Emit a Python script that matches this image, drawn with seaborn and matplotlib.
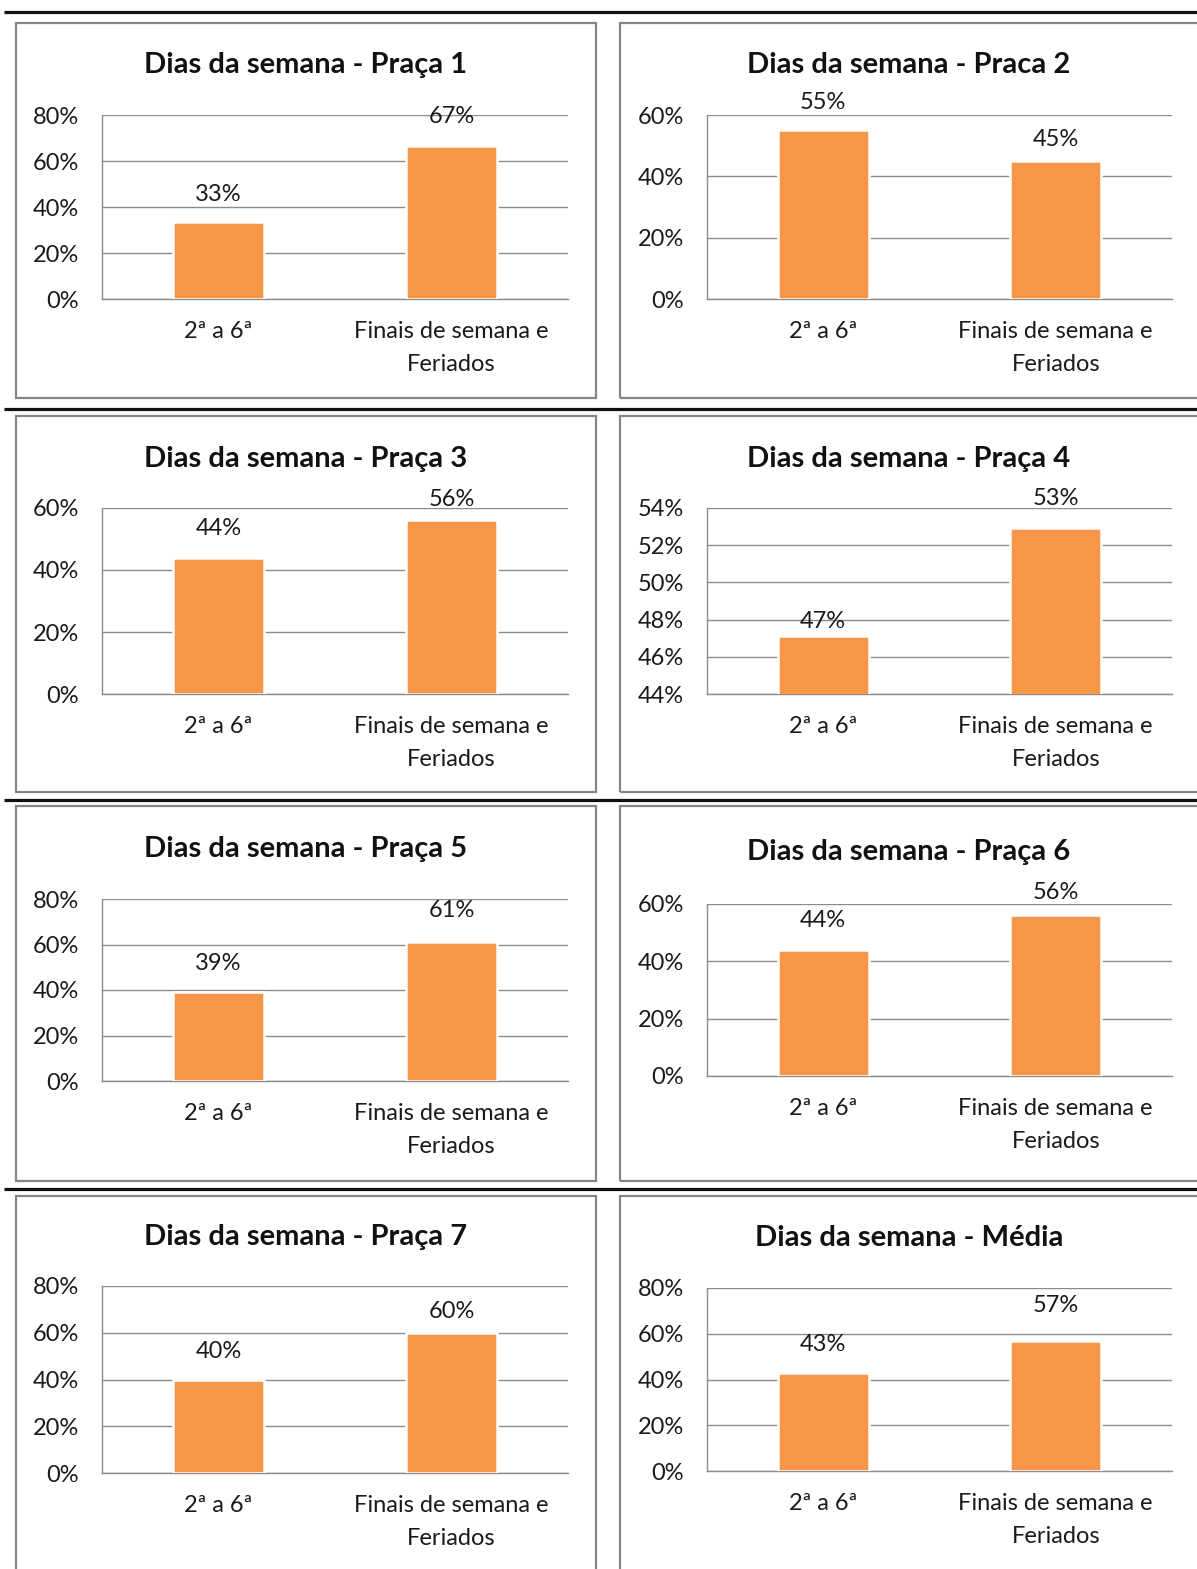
import matplotlib
matplotlib.use("Agg")
import matplotlib.pyplot as plt
import seaborn as sns
import pandas as pd
from matplotlib.lines import Line2D
from matplotlib.patches import Rectangle
from matplotlib.ticker import FuncFormatter

# ---- data ----
categories = ["2ª a 6ª", "Finais de semana e\nFeriados"]
titles = [
    "Dias da semana - Praça 1", "Dias da semana - Praca 2",
    "Dias da semana - Praça 3", "Dias da semana - Praça 4",
    "Dias da semana - Praça 5", "Dias da semana - Praça 6",
    "Dias da semana - Praça 7", "Dias da semana - Média",
]
praca1 = [0.333, 0.667]
praca2 = [0.55, 0.45]
praca3 = [0.44, 0.56]
praca4 = [0.471, 0.529]
praca5 = [0.39, 0.61]
praca6 = [0.44, 0.56]
praca7 = [0.40, 0.60]
media = [0.43, 0.57]
series = [praca1, praca2, praca3, praca4, praca5, praca6, praca7, media]

# y-axis ranges (min, max, step)
y_ranges = [
    (0.0, 0.80, 0.20), (0.0, 0.60, 0.20),
    (0.0, 0.60, 0.20), (0.44, 0.54, 0.02),
    (0.0, 0.80, 0.20), (0.0, 0.60, 0.20),
    (0.0, 0.80, 0.20), (0.0, 0.80, 0.20),
]

# ---- layout (pixels) ----
W, H = 1197, 1569
# plot areas: left, right, top, bottom
plot_boxes = [
    (102, 568, 115, 299), (707, 1172, 115, 299),
    (102, 568, 508, 694), (707, 1172, 508, 694),
    (102, 568, 899, 1081), (707, 1172, 904, 1076),
    (102, 568, 1286, 1473), (707, 1172, 1288, 1471),
]
title_y = [65, 65, 459, 459, 849, 852, 1237, 1238]
col_centers = [306, 909]
# chart frames: left, right, top, bottom
frame_cols = [(16, 596), (620, 1210)]
frame_rows = [(23, 398), (416, 792), (806, 1181), (1196, 1590)]
table_lines = [12, 409, 800, 1189]
# data label lift above each bar (pixels)
label_lift = [
    (28, 29), (28, 21), (29, 21), (15, 30),
    (29, 32), (29, 23), (28, 21), (28, 35),
]

BAR = "#F79646"
GRID = "#8C8C8C"
FRAME = "#858585"
TXT = "#1a1a1a"
FS = 17

sns.set_theme(style="white")
plt.rcParams["font.family"] = ["Lato", "DejaVu Sans"]

fig = plt.figure(figsize=(W / 100, H / 100), dpi=100)
fig.patch.set_facecolor("white")


def px_line(x0, x1, y0, y1, **kw):
    fig.add_artist(Line2D([x0 / W, x1 / W], [1 - y0 / H, 1 - y1 / H],
                          transform=fig.transFigure, **kw))


# table separators
for y in table_lines:
    px_line(4, W, y, y, color="#111111", linewidth=2.3, solid_capstyle="butt")

# chart frames
for (rt, rb) in frame_rows:
    for (cl, cr) in frame_cols:
        fig.add_artist(Rectangle((cl / W, 1 - rb / H), (cr - cl) / W, (rb - rt) / H,
                                 transform=fig.transFigure, fill=False,
                                 edgecolor=FRAME, linewidth=1.6, zorder=0))

pct = FuncFormatter(lambda v, _: f"{v * 100:.0f}%")

for i, vals in enumerate(series):
    l, r, t, b = plot_boxes[i]
    ax = fig.add_axes([l / W, 1 - b / H, (r - l) / W, (b - t) / H])
    df = pd.DataFrame({"cat": categories, "val": vals})
    sns.barplot(data=df, x="cat", y="val", ax=ax, color=BAR, saturation=1,
                width=0.39, edgecolor="white", linewidth=1.8, zorder=3)
    lo, hi, step = y_ranges[i]
    ax.set_ylim(lo, hi)
    n = int(round((hi - lo) / step))
    ax.set_yticks([lo + k * step for k in range(n + 1)])
    ax.yaxis.set_major_formatter(pct)
    ax.set_xlim(-0.5, 1.5)
    ax.set_xlabel("")
    ax.set_ylabel("")
    ax.grid(axis="y", color=GRID, linewidth=1.0, zorder=0)
    ax.set_axisbelow(True)
    for s in ("top", "right"):
        ax.spines[s].set_visible(False)
    for s in ("left", "bottom"):
        ax.spines[s].set_color(GRID)
        ax.spines[s].set_linewidth(1.0)
    ax.tick_params(axis="y", length=6.5, width=1.0, color=GRID, pad=10,
                   labelsize=FS, labelcolor=TXT)
    ax.tick_params(axis="x", length=0, pad=16, labelsize=FS, labelcolor=TXT)
    for lab in ax.get_xticklabels():
        lab.set_linespacing(1.7)
    ax.set_facecolor("none")
    for j, v in enumerate(vals):
        ax.annotate(f"{v * 100:.0f}%", (j, v), xytext=(0, label_lift[i][j] * 0.72),
                    textcoords="offset points", ha="center", va="center",
                    fontsize=FS, color=TXT, zorder=5)
    fig.text(col_centers[i % 2] / W, 1 - title_y[i] / H, titles[i],
             ha="center", va="center", fontsize=21, fontweight="bold",
             color="#111111")

fig.savefig("out.png", dpi=100, facecolor="white")
